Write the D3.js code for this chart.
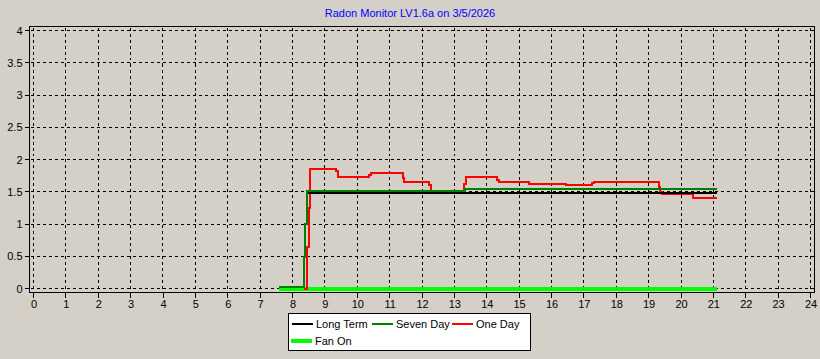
<!DOCTYPE html>
<html>
<head>
<meta charset="utf-8">
<script src="https://cdn.jsdelivr.net/npm/d3@7"></script>
<style>
  body { margin: 0; background: #d4d0c8; }
  svg { display: block; }
  text { font-family: "Liberation Sans", Arial, sans-serif; font-size: 11px; }
</style>
</head>
<body>
<div id="chart"></div>
<script>
// data (hours since midnight, pCi/L)
const title = "Radon Monitor LV1.6a on 3/5/2026"
const xTicks = d3.range(0, 25)
const yTicks = [0, 0.5, 1, 1.5, 2, 2.5, 3, 3.5, 4]
const yTickLabels = ["0", "0.5", "1", "1.5", "2", "2.5", "3", "3.5", "4"]

const fanOnHours = [7.66, 21.05]
const fanOnValues = [0, 0]

const longTermHours = [8.47, 21.08]
const longTermValues = [1.483, 1.483]

const sevenDayHours = [7.62, 8.34, 8.38, 8.46, 13.34, 21.08]
const sevenDayValues = [0.02, 0.49, 1.0, 1.515, 1.545, 1.545]

const oneDayHours = [8.40, 8.45, 8.50, 8.55, 9.35, 9.42, 10.37, 10.42, 11.40, 11.45, 12.22, 12.28,
  13.31, 13.36, 14.33, 14.38, 15.32, 16.44, 17.26, 17.32, 19.33, 19.36, 19.40, 20.36, 21.08]
const oneDayValues = [0, 0.65, 1.25, 1.86, 1.82, 1.73, 1.76, 1.79, 1.72, 1.65, 1.60, 1.51,
  1.62, 1.73, 1.68, 1.65, 1.62, 1.605, 1.63, 1.65, 1.58, 1.50, 1.465, 1.405, 1.405]

// drawing order: fan first, seven day on top
const series = [
  {name: "Fan On", hours: fanOnHours, values: fanOnValues, color: "#00ff00", width: 4},
  {name: "One Day", hours: oneDayHours, values: oneDayValues, color: "#ff0000", width: 2},
  {name: "Long Term", hours: longTermHours, values: longTermValues, color: "#000000", width: 2},
  {name: "Seven Day", hours: sevenDayHours, values: sevenDayValues, color: "#008000", width: 2}
]

const W = 820, H = 359
const frame = {left: 29.5, top: 26.5, right: 814.5, bottom: 292.5}

const svg = d3.select("#chart").append("svg")
  .attr("width", W)
  .attr("height", H)

const x = d3.scaleLinear().domain([0, 24]).range([33.5, 810.5])
const y = d3.scaleLinear().domain([0, 4]).range([288.5, 30.5])

// title
svg.append("text")
  .attr("x", 410)
  .attr("y", 17)
  .attr("text-anchor", "middle")
  .attr("fill", "#0000ff")
  .text(title)

// dashed grid
const grid = svg.append("g")
  .attr("stroke", "#000")
  .attr("stroke-width", 1)
  .attr("stroke-dasharray", "3,3")
  .attr("shape-rendering", "crispEdges")
grid.selectAll(".vg").data(xTicks).enter().append("line")
  .attr("x1", d => Math.floor(x(d)) + 0.5).attr("x2", d => Math.floor(x(d)) + 0.5)
  .attr("y1", frame.top + 1).attr("y2", frame.bottom)
grid.selectAll(".hg").data(yTicks).enter().append("line")
  .attr("y1", d => Math.floor(y(d)) + 0.5).attr("y2", d => Math.floor(y(d)) + 0.5)
  .attr("x1", frame.left + 1).attr("x2", frame.right)

// frame
svg.append("rect")
  .attr("x", frame.left).attr("y", frame.top)
  .attr("width", frame.right - frame.left)
  .attr("height", frame.bottom - frame.top)
  .attr("fill", "none")
  .attr("stroke", "#000")
  .attr("shape-rendering", "crispEdges")

// axes
const xAxis = svg.append("g")
  .attr("transform", "translate(0," + frame.bottom + ")")
  .call(d3.axisBottom(x).tickValues(xTicks).tickSize(5).tickSizeOuter(0).tickPadding(3))
xAxis.select(".domain").remove()

const yAxis = svg.append("g")
  .attr("transform", "translate(" + frame.left + ",0)")
  .call(d3.axisLeft(y).tickValues(yTicks).tickFormat((d, i) => yTickLabels[i])
    .tickSize(5).tickSizeOuter(0).tickPadding(2))
yAxis.select(".domain").remove()

svg.selectAll(".tick line").attr("shape-rendering", "crispEdges")
  .attr("transform", function() {
    return this.parentNode.parentNode === yAxis.node() ? "translate(0,-0.5)" : "translate(-0.5,0)"
  })
svg.selectAll(".tick text")
  .style("font-family", "'Liberation Sans', Arial, sans-serif")
  .style("font-size", "11px")
  .attr("fill", "#000")

// series lines, step after
const line = d3.line().curve(d3.curveStepAfter)
series.forEach(s => {
  const pts = s.hours.map((h, i) => [x(h), y(s.values[i])])
  svg.append("path")
    .attr("d", line(pts))
    .attr("fill", "none")
    .attr("stroke", s.color)
    .attr("stroke-width", s.width)
    .attr("stroke-linecap", "square")
    .attr("shape-rendering", "crispEdges")
})

// legend
const legend = svg.append("g")
legend.append("rect")
  .attr("x", 288.5).attr("y", 313.5)
  .attr("width", 242).attr("height", 37)
  .attr("fill", "#fff")
  .attr("stroke", "#000")
  .attr("shape-rendering", "crispEdges")

const legendItems = [
  {name: "Long Term", lx: 292, ly: 324, color: "#000000", width: 2},
  {name: "Seven Day", lx: 372, ly: 324, color: "#008000", width: 2},
  {name: "One Day", lx: 452, ly: 324, color: "#ff0000", width: 2},
  {name: "Fan On", lx: 291, ly: 341, color: "#00ff00", width: 4}
]
legendItems.forEach(it => {
  legend.append("line")
    .attr("x1", it.lx).attr("x2", it.lx + 21)
    .attr("y1", it.ly).attr("y2", it.ly)
    .attr("stroke", it.color)
    .attr("stroke-width", it.width)
  legend.append("text")
    .attr("x", it.lx + 24)
    .attr("y", it.ly + 4)
    .attr("fill", "#000")
    .text(it.name)
})
</script>
</body>
</html>
